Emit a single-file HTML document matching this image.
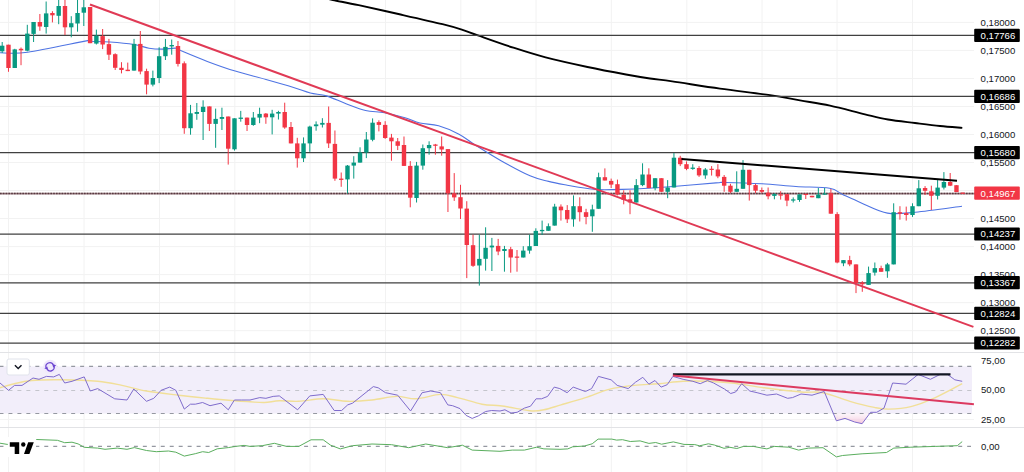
<!DOCTYPE html>
<html><head><meta charset="utf-8"><style>
html,body{margin:0;padding:0;background:#fff;width:1024px;height:472px;overflow:hidden}
svg{display:block}
</style></head><body>
<svg width="1024" height="472" viewBox="0 0 1024 472">
<rect width="1024" height="472" fill="#fff"/>
<line x1="8.5" y1="0" x2="8.5" y2="472" stroke="#f2f2f2" stroke-width="1"/>
<line x1="84" y1="0" x2="84" y2="472" stroke="#f2f2f2" stroke-width="1"/>
<line x1="159.5" y1="0" x2="159.5" y2="472" stroke="#f2f2f2" stroke-width="1"/>
<line x1="234.8" y1="0" x2="234.8" y2="472" stroke="#f2f2f2" stroke-width="1"/>
<line x1="310" y1="0" x2="310" y2="472" stroke="#f2f2f2" stroke-width="1"/>
<line x1="385.5" y1="0" x2="385.5" y2="472" stroke="#f2f2f2" stroke-width="1"/>
<line x1="460.8" y1="0" x2="460.8" y2="472" stroke="#f2f2f2" stroke-width="1"/>
<line x1="536" y1="0" x2="536" y2="472" stroke="#f2f2f2" stroke-width="1"/>
<line x1="611.3" y1="0" x2="611.3" y2="472" stroke="#f2f2f2" stroke-width="1"/>
<line x1="686.8" y1="0" x2="686.8" y2="472" stroke="#f2f2f2" stroke-width="1"/>
<line x1="762" y1="0" x2="762" y2="472" stroke="#f2f2f2" stroke-width="1"/>
<line x1="837" y1="0" x2="837" y2="472" stroke="#f2f2f2" stroke-width="1"/>
<line x1="912.5" y1="0" x2="912.5" y2="472" stroke="#f2f2f2" stroke-width="1"/>
<line x1="0" y1="22.4" x2="974" y2="22.4" stroke="#f2f2f2" stroke-width="1"/>
<line x1="0" y1="50.42" x2="974" y2="50.42" stroke="#f2f2f2" stroke-width="1"/>
<line x1="0" y1="78.45" x2="974" y2="78.45" stroke="#f2f2f2" stroke-width="1"/>
<line x1="0" y1="106.47" x2="974" y2="106.47" stroke="#f2f2f2" stroke-width="1"/>
<line x1="0" y1="134.5" x2="974" y2="134.5" stroke="#f2f2f2" stroke-width="1"/>
<line x1="0" y1="162.53" x2="974" y2="162.53" stroke="#f2f2f2" stroke-width="1"/>
<line x1="0" y1="190.55" x2="974" y2="190.55" stroke="#f2f2f2" stroke-width="1"/>
<line x1="0" y1="218.57" x2="974" y2="218.57" stroke="#f2f2f2" stroke-width="1"/>
<line x1="0" y1="246.6" x2="974" y2="246.6" stroke="#f2f2f2" stroke-width="1"/>
<line x1="0" y1="274.62" x2="974" y2="274.62" stroke="#f2f2f2" stroke-width="1"/>
<line x1="0" y1="302.65" x2="974" y2="302.65" stroke="#f2f2f2" stroke-width="1"/>
<line x1="0" y1="330.67" x2="974" y2="330.67" stroke="#f2f2f2" stroke-width="1"/>
<line x1="0" y1="419.5" x2="974" y2="419.5" stroke="#f4f4f4" stroke-width="1"/>
<line x1="0" y1="352.5" x2="1024" y2="352.5" stroke="#e2e3e6" stroke-width="1.2"/>
<line x1="0" y1="427.5" x2="1024" y2="427.5" stroke="#e2e3e6" stroke-width="1.2"/>
<path d="M322,-2.6 C323.82,-2.17 326.78,-1.3 332.9,0 C339.02,1.3 347.42,2.78 358.7,5.2 C369.98,7.62 386.63,11.33 400.6,14.5 C414.57,17.67 432.3,21.68 442.5,24.2 C452.7,26.72 455.9,27.73 461.8,29.6 C467.7,31.47 469.3,32.38 477.9,35.4 C486.5,38.42 502.12,44.03 513.4,47.7 C524.68,51.37 533.25,54.18 545.6,57.4 C557.95,60.62 574.1,64.15 587.5,67 C600.9,69.85 615.58,72.58 626,74.5 C636.42,76.42 642.3,77.35 650,78.5 C657.7,79.65 660.53,79.72 672.2,81.4 C683.87,83.08 703.7,86.3 720,88.6 C736.3,90.9 756.67,93.23 770,95.2 C783.33,97.17 790,98.67 800,100.4 C810,102.13 819.17,103.28 830,105.6 C840.83,107.92 855.33,111.98 865,114.3 C874.67,116.62 879.67,118.05 888,119.5 C896.33,120.95 906.33,121.92 915,123 C923.67,124.08 932.12,125.18 940,126 C947.88,126.82 958.58,127.58 962.3,127.9" fill="none" stroke="#000" stroke-width="1.85"/>
<line x1="0" y1="35.4" x2="975" y2="35.4" stroke="#404040" stroke-width="1.25"/>
<line x1="0" y1="96.4" x2="975" y2="96.4" stroke="#404040" stroke-width="1.25"/>
<line x1="0" y1="152.5" x2="975" y2="152.5" stroke="#404040" stroke-width="1.25"/>
<line x1="0" y1="234.2" x2="975" y2="234.2" stroke="#404040" stroke-width="1.25"/>
<line x1="0" y1="282.8" x2="975" y2="282.8" stroke="#404040" stroke-width="1.25"/>
<line x1="0" y1="313.3" x2="975" y2="313.3" stroke="#404040" stroke-width="1.25"/>
<line x1="0" y1="343.2" x2="975" y2="343.2" stroke="#404040" stroke-width="1.25"/>
<line x1="0" y1="193.6" x2="975" y2="193.6" stroke="#a08288" stroke-width="1.7"/>
<line x1="0" y1="193.6" x2="975" y2="193.6" stroke="#573a40" stroke-width="1.5" stroke-dasharray="1.6 1.2"/>
<path d="M0,52.8 C4.6,52.7 13,54.23 27.6,52.2 C42.2,50.17 77.32,42.42 87.6,40.6 C97.88,38.78 85.57,41.07 89.3,41.3 C93.03,41.53 102.55,41.47 110,42 C117.45,42.53 127.5,43.47 134,44.5 C140.5,45.53 144.33,47.43 149,48.2 C153.67,48.97 157.5,49.1 162,49.1 C166.5,49.1 172.8,47.92 176,48.2 C179.2,48.48 175.98,48.6 181.2,50.8 C186.42,53 198.45,58.07 207.3,61.4 C216.15,64.73 224.52,67.78 234.3,70.8 C244.08,73.82 256.12,76.72 266,79.5 C275.88,82.28 286.22,85.25 293.6,87.5 C300.98,89.75 304.82,91.6 310.3,93 C315.78,94.4 320.55,94.12 326.5,95.9 C332.45,97.68 339.5,101.27 346,103.7 C352.5,106.13 359.08,108.98 365.5,110.5 C371.92,112.02 377.92,111.58 384.5,112.8 C391.08,114.02 399.1,116.1 405,117.8 C410.9,119.5 414.3,121.67 419.9,123 C425.5,124.33 432.08,123.93 438.6,125.8 C445.12,127.67 452.8,130.93 459,134.2 C465.2,137.47 468.8,140.98 475.8,145.4 C482.8,149.82 491.97,155.63 501,160.7 C510.03,165.77 522.07,172.35 530,175.8 C537.93,179.25 542.38,179.83 548.6,181.4 C554.82,182.97 561.07,184.05 567.3,185.2 C573.53,186.35 580.88,187.57 586,188.3 C591.12,189.03 592,189.42 598,189.6 C604,189.78 613.67,189.62 622,189.4 C630.33,189.18 639,188.83 648,188.3 C657,187.77 664.67,187.1 676,186.2 C687.33,185.3 707.9,183.52 716,182.9 C724.1,182.28 716.93,182.35 724.6,182.5 C732.27,182.65 750.1,183.13 762,183.8 C773.9,184.47 784.73,185.75 796,186.5 C807.27,187.25 821.83,186.97 829.6,188.3 C837.37,189.63 837.32,192.07 842.6,194.5 C847.88,196.93 853.82,199.8 861.3,202.9 C868.78,206 878.48,211.55 887.5,213.1 C896.52,214.65 902.98,213.35 915.4,212.2 C927.82,211.05 954.23,207.2 962,206.2" fill="none" stroke="#4f74e3" stroke-width="1.1"/>
<line x1="2.2" y1="42" x2="2.2" y2="53" stroke="#089981" stroke-width="1"/>
<rect x="0" y="45.7" width="4.4" height="5.6" fill="#089981"/>
<line x1="8.48" y1="44.7" x2="8.48" y2="71.8" stroke="#F23645" stroke-width="1"/>
<rect x="6.28" y="44.7" width="4.4" height="23.3" fill="#F23645"/>
<line x1="14.76" y1="48.8" x2="14.76" y2="68" stroke="#089981" stroke-width="1"/>
<rect x="12.56" y="49.4" width="4.4" height="18.6" fill="#089981"/>
<line x1="21.03" y1="47.5" x2="21.03" y2="65.2" stroke="#F23645" stroke-width="1"/>
<rect x="18.83" y="48.8" width="4.4" height="1.5" fill="#F23645"/>
<line x1="27.31" y1="24.8" x2="27.31" y2="51.3" stroke="#089981" stroke-width="1"/>
<rect x="25.11" y="33.6" width="4.4" height="17.1" fill="#089981"/>
<line x1="33.59" y1="22" x2="33.59" y2="42" stroke="#089981" stroke-width="1"/>
<rect x="31.39" y="22" width="4.4" height="11.9" fill="#089981"/>
<line x1="39.87" y1="14" x2="39.87" y2="30.8" stroke="#F23645" stroke-width="1"/>
<rect x="37.67" y="22" width="4.4" height="4.5" fill="#F23645"/>
<line x1="46.15" y1="1.5" x2="46.15" y2="33.6" stroke="#089981" stroke-width="1"/>
<rect x="43.95" y="13.4" width="4.4" height="13.6" fill="#089981"/>
<line x1="52.42" y1="11.2" x2="52.42" y2="22.4" stroke="#F23645" stroke-width="1"/>
<rect x="50.22" y="13" width="4.4" height="2.3" fill="#F23645"/>
<line x1="58.7" y1="-5" x2="58.7" y2="24.2" stroke="#089981" stroke-width="1"/>
<rect x="56.5" y="6" width="4.4" height="9.8" fill="#089981"/>
<line x1="64.98" y1="-5" x2="64.98" y2="35" stroke="#F23645" stroke-width="1"/>
<rect x="62.78" y="6" width="4.4" height="21.3" fill="#F23645"/>
<line x1="71.26" y1="16.2" x2="71.26" y2="37.3" stroke="#089981" stroke-width="1"/>
<rect x="69.06" y="23.2" width="4.4" height="4.1" fill="#089981"/>
<line x1="77.54" y1="-5" x2="77.54" y2="31.7" stroke="#089981" stroke-width="1"/>
<rect x="75.34" y="13" width="4.4" height="10.5" fill="#089981"/>
<line x1="83.81" y1="-5" x2="83.81" y2="26" stroke="#089981" stroke-width="1"/>
<rect x="81.61" y="7.3" width="4.4" height="5.4" fill="#089981"/>
<line x1="90.09" y1="7" x2="90.09" y2="43.2" stroke="#F23645" stroke-width="1"/>
<rect x="87.89" y="7" width="4.4" height="36.2" fill="#F23645"/>
<line x1="96.37" y1="29.6" x2="96.37" y2="44.5" stroke="#089981" stroke-width="1"/>
<rect x="94.17" y="35.7" width="4.4" height="7.9" fill="#089981"/>
<line x1="102.65" y1="29" x2="102.65" y2="49.1" stroke="#F23645" stroke-width="1"/>
<rect x="100.45" y="36.1" width="4.4" height="8.4" fill="#F23645"/>
<line x1="108.93" y1="38.9" x2="108.93" y2="60" stroke="#F23645" stroke-width="1"/>
<rect x="106.73" y="44.1" width="4.4" height="10.6" fill="#F23645"/>
<line x1="115.2" y1="53.3" x2="115.2" y2="70" stroke="#F23645" stroke-width="1"/>
<rect x="113" y="54.2" width="4.4" height="13.6" fill="#F23645"/>
<line x1="121.48" y1="62.2" x2="121.48" y2="73.4" stroke="#F23645" stroke-width="1"/>
<rect x="119.28" y="67.8" width="4.4" height="2.2" fill="#F23645"/>
<line x1="127.76" y1="62.6" x2="127.76" y2="71.1" stroke="#F23645" stroke-width="1"/>
<rect x="125.56" y="69.7" width="4.4" height="1.4" fill="#F23645"/>
<line x1="134.04" y1="38.9" x2="134.04" y2="70.6" stroke="#089981" stroke-width="1"/>
<rect x="131.84" y="43.9" width="4.4" height="26.7" fill="#089981"/>
<line x1="140.32" y1="31" x2="140.32" y2="74.3" stroke="#F23645" stroke-width="1"/>
<rect x="138.12" y="43.9" width="4.4" height="27.6" fill="#F23645"/>
<line x1="146.59" y1="68.7" x2="146.59" y2="94.3" stroke="#F23645" stroke-width="1"/>
<rect x="144.39" y="71.1" width="4.4" height="13.5" fill="#F23645"/>
<line x1="152.87" y1="70.6" x2="152.87" y2="86.4" stroke="#089981" stroke-width="1"/>
<rect x="150.67" y="78" width="4.4" height="6.6" fill="#089981"/>
<line x1="159.15" y1="47.3" x2="159.15" y2="83.1" stroke="#089981" stroke-width="1"/>
<rect x="156.95" y="56.2" width="4.4" height="21.8" fill="#089981"/>
<line x1="165.43" y1="38.9" x2="165.43" y2="60" stroke="#089981" stroke-width="1"/>
<rect x="163.23" y="46.9" width="4.4" height="9.3" fill="#089981"/>
<line x1="171.71" y1="39.5" x2="171.71" y2="54.7" stroke="#089981" stroke-width="1"/>
<rect x="169.51" y="45" width="4.4" height="1.4" fill="#089981"/>
<line x1="177.98" y1="41" x2="177.98" y2="66.5" stroke="#F23645" stroke-width="1"/>
<rect x="175.78" y="46" width="4.4" height="17.9" fill="#F23645"/>
<line x1="184.26" y1="61.4" x2="184.26" y2="133.8" stroke="#F23645" stroke-width="1"/>
<rect x="182.06" y="63.3" width="4.4" height="64.9" fill="#F23645"/>
<line x1="190.54" y1="104.9" x2="190.54" y2="134.7" stroke="#089981" stroke-width="1"/>
<rect x="188.34" y="113.3" width="4.4" height="14.9" fill="#089981"/>
<line x1="196.82" y1="103" x2="196.82" y2="119.8" stroke="#089981" stroke-width="1"/>
<rect x="194.62" y="112" width="4.4" height="1.9" fill="#089981"/>
<line x1="203.1" y1="100.3" x2="203.1" y2="140" stroke="#089981" stroke-width="1"/>
<rect x="200.9" y="106.8" width="4.4" height="5.2" fill="#089981"/>
<line x1="209.37" y1="106.4" x2="209.37" y2="131" stroke="#F23645" stroke-width="1"/>
<rect x="207.17" y="106.4" width="4.4" height="17.5" fill="#F23645"/>
<line x1="215.65" y1="108.6" x2="215.65" y2="147.8" stroke="#089981" stroke-width="1"/>
<rect x="213.45" y="118.9" width="4.4" height="5" fill="#089981"/>
<line x1="221.93" y1="107.7" x2="221.93" y2="130" stroke="#089981" stroke-width="1"/>
<rect x="219.73" y="117" width="4.4" height="1.9" fill="#089981"/>
<line x1="228.21" y1="116.5" x2="228.21" y2="164.6" stroke="#F23645" stroke-width="1"/>
<rect x="226.01" y="116.5" width="4.4" height="32.2" fill="#F23645"/>
<line x1="234.49" y1="118.3" x2="234.49" y2="150.6" stroke="#089981" stroke-width="1"/>
<rect x="232.29" y="118.3" width="4.4" height="31" fill="#089981"/>
<line x1="240.76" y1="110.9" x2="240.76" y2="121.7" stroke="#089981" stroke-width="1"/>
<rect x="238.56" y="117.6" width="4.4" height="1.3" fill="#089981"/>
<line x1="247.04" y1="117.6" x2="247.04" y2="131" stroke="#F23645" stroke-width="1"/>
<rect x="244.84" y="117.6" width="4.4" height="7.4" fill="#F23645"/>
<line x1="253.32" y1="112" x2="253.32" y2="125.8" stroke="#089981" stroke-width="1"/>
<rect x="251.12" y="117.6" width="4.4" height="7.4" fill="#089981"/>
<line x1="259.6" y1="107.7" x2="259.6" y2="123.2" stroke="#089981" stroke-width="1"/>
<rect x="257.4" y="113.9" width="4.4" height="3.7" fill="#089981"/>
<line x1="265.88" y1="113" x2="265.88" y2="123.8" stroke="#F23645" stroke-width="1"/>
<rect x="263.68" y="113.6" width="4.4" height="3.7" fill="#F23645"/>
<line x1="272.15" y1="109.8" x2="272.15" y2="134.4" stroke="#089981" stroke-width="1"/>
<rect x="269.95" y="113.6" width="4.4" height="3.7" fill="#089981"/>
<line x1="278.43" y1="110.8" x2="278.43" y2="119.5" stroke="#089981" stroke-width="1"/>
<rect x="276.23" y="112" width="4.4" height="1.6" fill="#089981"/>
<line x1="284.71" y1="102.7" x2="284.71" y2="128.8" stroke="#F23645" stroke-width="1"/>
<rect x="282.51" y="112" width="4.4" height="15.5" fill="#F23645"/>
<line x1="290.99" y1="122" x2="290.99" y2="143.4" stroke="#F23645" stroke-width="1"/>
<rect x="288.79" y="127" width="4.4" height="16.4" fill="#F23645"/>
<line x1="297.27" y1="137.8" x2="297.27" y2="167.6" stroke="#F23645" stroke-width="1"/>
<rect x="295.07" y="143.4" width="4.4" height="14.9" fill="#F23645"/>
<line x1="303.54" y1="137.4" x2="303.54" y2="162" stroke="#089981" stroke-width="1"/>
<rect x="301.34" y="143.4" width="4.4" height="14.9" fill="#089981"/>
<line x1="309.82" y1="125.7" x2="309.82" y2="151.8" stroke="#089981" stroke-width="1"/>
<rect x="307.62" y="126.6" width="4.4" height="16.8" fill="#089981"/>
<line x1="316.1" y1="121.4" x2="316.1" y2="130.7" stroke="#089981" stroke-width="1"/>
<rect x="313.9" y="124.4" width="4.4" height="1.8" fill="#089981"/>
<line x1="322.38" y1="118.2" x2="322.38" y2="127.5" stroke="#089981" stroke-width="1"/>
<rect x="320.18" y="122.9" width="4.4" height="1.8" fill="#089981"/>
<line x1="328.66" y1="106.5" x2="328.66" y2="148" stroke="#F23645" stroke-width="1"/>
<rect x="326.46" y="122.9" width="4.4" height="20.5" fill="#F23645"/>
<line x1="334.93" y1="130.5" x2="334.93" y2="180.8" stroke="#F23645" stroke-width="1"/>
<rect x="332.73" y="143.9" width="4.4" height="34.7" fill="#F23645"/>
<line x1="341.21" y1="172.5" x2="341.21" y2="186.8" stroke="#F23645" stroke-width="1"/>
<rect x="339.01" y="178.6" width="4.4" height="1.3" fill="#F23645"/>
<line x1="347.49" y1="165" x2="347.49" y2="193.5" stroke="#089981" stroke-width="1"/>
<rect x="345.29" y="165.6" width="4.4" height="13.8" fill="#089981"/>
<line x1="353.77" y1="156.2" x2="353.77" y2="178.6" stroke="#089981" stroke-width="1"/>
<rect x="351.57" y="162.6" width="4.4" height="3" fill="#089981"/>
<line x1="360.05" y1="147.3" x2="360.05" y2="162.6" stroke="#089981" stroke-width="1"/>
<rect x="357.85" y="152.5" width="4.4" height="10.1" fill="#089981"/>
<line x1="366.32" y1="132" x2="366.32" y2="158.1" stroke="#089981" stroke-width="1"/>
<rect x="364.12" y="139.5" width="4.4" height="13" fill="#089981"/>
<line x1="372.6" y1="118.4" x2="372.6" y2="141.3" stroke="#089981" stroke-width="1"/>
<rect x="370.4" y="122.7" width="4.4" height="17.1" fill="#089981"/>
<line x1="378.88" y1="120.3" x2="378.88" y2="131.4" stroke="#F23645" stroke-width="1"/>
<rect x="376.68" y="122.1" width="4.4" height="2.8" fill="#F23645"/>
<line x1="385.16" y1="121.2" x2="385.16" y2="138.9" stroke="#F23645" stroke-width="1"/>
<rect x="382.96" y="124.9" width="4.4" height="13.1" fill="#F23645"/>
<line x1="391.44" y1="133.9" x2="391.44" y2="160.7" stroke="#F23645" stroke-width="1"/>
<rect x="389.24" y="137.6" width="4.4" height="3.7" fill="#F23645"/>
<line x1="397.71" y1="138" x2="397.71" y2="150.1" stroke="#F23645" stroke-width="1"/>
<rect x="395.51" y="141.3" width="4.4" height="4.5" fill="#F23645"/>
<line x1="403.99" y1="136.5" x2="403.99" y2="166" stroke="#F23645" stroke-width="1"/>
<rect x="401.79" y="145" width="4.4" height="20.9" fill="#F23645"/>
<line x1="410.27" y1="161.1" x2="410.27" y2="207.3" stroke="#F23645" stroke-width="1"/>
<rect x="408.07" y="165.9" width="4.4" height="31.8" fill="#F23645"/>
<line x1="416.55" y1="161.9" x2="416.55" y2="202.5" stroke="#089981" stroke-width="1"/>
<rect x="414.35" y="165.6" width="4.4" height="32.4" fill="#089981"/>
<line x1="422.83" y1="144.5" x2="422.83" y2="169.7" stroke="#089981" stroke-width="1"/>
<rect x="420.63" y="148.2" width="4.4" height="17.4" fill="#089981"/>
<line x1="429.1" y1="141.3" x2="429.1" y2="154.7" stroke="#089981" stroke-width="1"/>
<rect x="426.9" y="145" width="4.4" height="3.2" fill="#089981"/>
<line x1="435.38" y1="143.9" x2="435.38" y2="154.7" stroke="#F23645" stroke-width="1"/>
<rect x="433.18" y="144.5" width="4.4" height="1.3" fill="#F23645"/>
<line x1="441.66" y1="136.5" x2="441.66" y2="155.7" stroke="#F23645" stroke-width="1"/>
<rect x="439.46" y="146.4" width="4.4" height="3.1" fill="#F23645"/>
<line x1="447.94" y1="149.1" x2="447.94" y2="212" stroke="#F23645" stroke-width="1"/>
<rect x="445.74" y="149.1" width="4.4" height="44.2" fill="#F23645"/>
<line x1="454.22" y1="173.1" x2="454.22" y2="200.9" stroke="#F23645" stroke-width="1"/>
<rect x="452.02" y="193.3" width="4.4" height="4.1" fill="#F23645"/>
<line x1="460.49" y1="184.8" x2="460.49" y2="219" stroke="#F23645" stroke-width="1"/>
<rect x="458.29" y="197.2" width="4.4" height="11.3" fill="#F23645"/>
<line x1="466.77" y1="201.2" x2="466.77" y2="278.1" stroke="#F23645" stroke-width="1"/>
<rect x="464.57" y="208.6" width="4.4" height="36.4" fill="#F23645"/>
<line x1="473.05" y1="234.7" x2="473.05" y2="266.9" stroke="#F23645" stroke-width="1"/>
<rect x="470.85" y="245.2" width="4.4" height="20.6" fill="#F23645"/>
<line x1="479.33" y1="234.7" x2="479.33" y2="285.6" stroke="#089981" stroke-width="1"/>
<rect x="477.13" y="258.9" width="4.4" height="6.6" fill="#089981"/>
<line x1="485.61" y1="227.3" x2="485.61" y2="270.6" stroke="#089981" stroke-width="1"/>
<rect x="483.41" y="247.8" width="4.4" height="11" fill="#089981"/>
<line x1="491.88" y1="237.9" x2="491.88" y2="271" stroke="#089981" stroke-width="1"/>
<rect x="489.68" y="245.6" width="4.4" height="1.8" fill="#089981"/>
<line x1="498.16" y1="238.9" x2="498.16" y2="255.2" stroke="#F23645" stroke-width="1"/>
<rect x="495.96" y="245.9" width="4.4" height="5.6" fill="#F23645"/>
<line x1="504.44" y1="245.9" x2="504.44" y2="271.7" stroke="#089981" stroke-width="1"/>
<rect x="502.24" y="249" width="4.4" height="2" fill="#089981"/>
<line x1="510.72" y1="246.9" x2="510.72" y2="272.7" stroke="#F23645" stroke-width="1"/>
<rect x="508.52" y="249.2" width="4.4" height="8.3" fill="#F23645"/>
<line x1="517" y1="250" x2="517" y2="271.7" stroke="#F23645" stroke-width="1"/>
<rect x="514.8" y="256.55" width="4.4" height="1.2" fill="#F23645"/>
<line x1="523.27" y1="246.2" x2="523.27" y2="257.5" stroke="#089981" stroke-width="1"/>
<rect x="521.07" y="250.6" width="4.4" height="6.9" fill="#089981"/>
<line x1="529.55" y1="234.7" x2="529.55" y2="253.7" stroke="#089981" stroke-width="1"/>
<rect x="527.35" y="246.2" width="4.4" height="4.4" fill="#089981"/>
<line x1="535.83" y1="228.3" x2="535.83" y2="246" stroke="#089981" stroke-width="1"/>
<rect x="533.63" y="230.9" width="4.4" height="15.1" fill="#089981"/>
<line x1="542.11" y1="220.6" x2="542.11" y2="235" stroke="#089981" stroke-width="1"/>
<rect x="539.91" y="229.9" width="4.4" height="1.3" fill="#089981"/>
<line x1="548.39" y1="223.4" x2="548.39" y2="230.8" stroke="#089981" stroke-width="1"/>
<rect x="546.19" y="226.2" width="4.4" height="4.6" fill="#089981"/>
<line x1="554.66" y1="203.8" x2="554.66" y2="225.6" stroke="#089981" stroke-width="1"/>
<rect x="552.46" y="206.6" width="4.4" height="19" fill="#089981"/>
<line x1="560.94" y1="204.4" x2="560.94" y2="220.6" stroke="#F23645" stroke-width="1"/>
<rect x="558.74" y="206.6" width="4.4" height="3.7" fill="#F23645"/>
<line x1="567.22" y1="205.1" x2="567.22" y2="223" stroke="#F23645" stroke-width="1"/>
<rect x="565.02" y="210" width="4.4" height="9.3" fill="#F23645"/>
<line x1="573.5" y1="195.4" x2="573.5" y2="226.7" stroke="#089981" stroke-width="1"/>
<rect x="571.3" y="206.2" width="4.4" height="13.1" fill="#089981"/>
<line x1="579.78" y1="197.3" x2="579.78" y2="221.5" stroke="#F23645" stroke-width="1"/>
<rect x="577.58" y="206.2" width="4.4" height="6" fill="#F23645"/>
<line x1="586.05" y1="208.8" x2="586.05" y2="224.3" stroke="#F23645" stroke-width="1"/>
<rect x="583.85" y="212.2" width="4.4" height="4.7" fill="#F23645"/>
<line x1="592.33" y1="204.7" x2="592.33" y2="231.8" stroke="#089981" stroke-width="1"/>
<rect x="590.13" y="209.4" width="4.4" height="6.9" fill="#089981"/>
<line x1="598.61" y1="172.7" x2="598.61" y2="208.8" stroke="#089981" stroke-width="1"/>
<rect x="596.41" y="177.2" width="4.4" height="31.6" fill="#089981"/>
<line x1="604.89" y1="168.4" x2="604.89" y2="180.5" stroke="#F23645" stroke-width="1"/>
<rect x="602.69" y="177.2" width="4.4" height="3.3" fill="#F23645"/>
<line x1="611.17" y1="178.6" x2="611.17" y2="188" stroke="#F23645" stroke-width="1"/>
<rect x="608.97" y="180.9" width="4.4" height="3.7" fill="#F23645"/>
<line x1="617.44" y1="179.6" x2="617.44" y2="195.4" stroke="#F23645" stroke-width="1"/>
<rect x="615.24" y="184.2" width="4.4" height="10.3" fill="#F23645"/>
<line x1="623.72" y1="190.3" x2="623.72" y2="204.3" stroke="#F23645" stroke-width="1"/>
<rect x="621.52" y="194.8" width="4.4" height="5.1" fill="#F23645"/>
<line x1="630" y1="190.3" x2="630" y2="214.2" stroke="#F23645" stroke-width="1"/>
<rect x="627.8" y="199.3" width="4.4" height="3.2" fill="#F23645"/>
<line x1="636.28" y1="179.1" x2="636.28" y2="202.5" stroke="#089981" stroke-width="1"/>
<rect x="634.08" y="185.1" width="4.4" height="17.4" fill="#089981"/>
<line x1="642.56" y1="163.3" x2="642.56" y2="186.2" stroke="#089981" stroke-width="1"/>
<rect x="640.36" y="174.5" width="4.4" height="10.6" fill="#089981"/>
<line x1="648.83" y1="168.3" x2="648.83" y2="188.1" stroke="#F23645" stroke-width="1"/>
<rect x="646.63" y="174.5" width="4.4" height="13.6" fill="#F23645"/>
<line x1="655.11" y1="178.2" x2="655.11" y2="190.3" stroke="#089981" stroke-width="1"/>
<rect x="652.91" y="178.2" width="4.4" height="9.9" fill="#089981"/>
<line x1="661.39" y1="178.2" x2="661.39" y2="191.8" stroke="#F23645" stroke-width="1"/>
<rect x="659.19" y="178.2" width="4.4" height="13.6" fill="#F23645"/>
<line x1="667.67" y1="180.1" x2="667.67" y2="198.2" stroke="#089981" stroke-width="1"/>
<rect x="665.47" y="187.5" width="4.4" height="4.3" fill="#089981"/>
<line x1="673.95" y1="153" x2="673.95" y2="187.5" stroke="#089981" stroke-width="1"/>
<rect x="671.75" y="157.7" width="4.4" height="29.8" fill="#089981"/>
<line x1="680.22" y1="155.8" x2="680.22" y2="166.1" stroke="#F23645" stroke-width="1"/>
<rect x="678.02" y="157.7" width="4.4" height="6.5" fill="#F23645"/>
<line x1="686.5" y1="161.4" x2="686.5" y2="170.2" stroke="#F23645" stroke-width="1"/>
<rect x="684.3" y="164.2" width="4.4" height="4.7" fill="#F23645"/>
<line x1="692.78" y1="164.2" x2="692.78" y2="169.8" stroke="#089981" stroke-width="1"/>
<rect x="690.58" y="167.6" width="4.4" height="1.3" fill="#089981"/>
<line x1="699.06" y1="166.1" x2="699.06" y2="176.9" stroke="#F23645" stroke-width="1"/>
<rect x="696.86" y="168" width="4.4" height="7.4" fill="#F23645"/>
<line x1="705.34" y1="168" x2="705.34" y2="178.8" stroke="#089981" stroke-width="1"/>
<rect x="703.14" y="169.5" width="4.4" height="5.9" fill="#089981"/>
<line x1="711.61" y1="166.1" x2="711.61" y2="175.6" stroke="#F23645" stroke-width="1"/>
<rect x="709.41" y="168.75" width="4.4" height="1.2" fill="#F23645"/>
<line x1="717.89" y1="164.2" x2="717.89" y2="178.2" stroke="#F23645" stroke-width="1"/>
<rect x="715.69" y="169.5" width="4.4" height="6.9" fill="#F23645"/>
<line x1="724.17" y1="175" x2="724.17" y2="191.8" stroke="#F23645" stroke-width="1"/>
<rect x="721.97" y="176.9" width="4.4" height="8.8" fill="#F23645"/>
<line x1="730.45" y1="183.8" x2="730.45" y2="193.1" stroke="#F23645" stroke-width="1"/>
<rect x="728.25" y="185.7" width="4.4" height="6.1" fill="#F23645"/>
<line x1="736.73" y1="171.3" x2="736.73" y2="191.8" stroke="#089981" stroke-width="1"/>
<rect x="734.53" y="188.8" width="4.4" height="3" fill="#089981"/>
<line x1="743" y1="160.1" x2="743" y2="188.8" stroke="#089981" stroke-width="1"/>
<rect x="740.8" y="169.8" width="4.4" height="19" fill="#089981"/>
<line x1="749.28" y1="169.8" x2="749.28" y2="200.6" stroke="#F23645" stroke-width="1"/>
<rect x="747.08" y="169.8" width="4.4" height="15.3" fill="#F23645"/>
<line x1="755.56" y1="183.8" x2="755.56" y2="193.1" stroke="#F23645" stroke-width="1"/>
<rect x="753.36" y="185.1" width="4.4" height="5.6" fill="#F23645"/>
<line x1="761.84" y1="187.5" x2="761.84" y2="193.1" stroke="#F23645" stroke-width="1"/>
<rect x="759.64" y="190" width="4.4" height="1.8" fill="#F23645"/>
<line x1="768.12" y1="187.5" x2="768.12" y2="199.3" stroke="#F23645" stroke-width="1"/>
<rect x="765.92" y="192.6" width="4.4" height="3.7" fill="#F23645"/>
<line x1="774.39" y1="193.1" x2="774.39" y2="199.3" stroke="#089981" stroke-width="1"/>
<rect x="772.19" y="194.1" width="4.4" height="1.8" fill="#089981"/>
<line x1="780.67" y1="191.2" x2="780.67" y2="199.6" stroke="#F23645" stroke-width="1"/>
<rect x="778.47" y="194.4" width="4.4" height="1.2" fill="#F23645"/>
<line x1="786.95" y1="194.1" x2="786.95" y2="206.2" stroke="#F23645" stroke-width="1"/>
<rect x="784.75" y="194.1" width="4.4" height="6.5" fill="#F23645"/>
<line x1="793.23" y1="197.4" x2="793.23" y2="202.5" stroke="#089981" stroke-width="1"/>
<rect x="791.03" y="199.4" width="4.4" height="1.2" fill="#089981"/>
<line x1="799.51" y1="194.4" x2="799.51" y2="201.8" stroke="#089981" stroke-width="1"/>
<rect x="797.31" y="194.4" width="4.4" height="5.6" fill="#089981"/>
<line x1="805.78" y1="194" x2="805.78" y2="199" stroke="#F23645" stroke-width="1"/>
<rect x="803.58" y="193.8" width="4.4" height="1.2" fill="#F23645"/>
<line x1="812.06" y1="195.8" x2="812.06" y2="197.3" stroke="#F23645" stroke-width="1"/>
<rect x="809.86" y="195.8" width="4.4" height="1.5" fill="#F23645"/>
<line x1="818.34" y1="188" x2="818.34" y2="198.2" stroke="#089981" stroke-width="1"/>
<rect x="816.14" y="194.5" width="4.4" height="3.7" fill="#089981"/>
<line x1="824.62" y1="188" x2="824.62" y2="194.6" stroke="#089981" stroke-width="1"/>
<rect x="822.42" y="193.5" width="4.4" height="1.2" fill="#089981"/>
<line x1="830.9" y1="188.9" x2="830.9" y2="213.7" stroke="#F23645" stroke-width="1"/>
<rect x="828.7" y="193.2" width="4.4" height="20.5" fill="#F23645"/>
<line x1="837.17" y1="212.2" x2="837.17" y2="263.3" stroke="#F23645" stroke-width="1"/>
<rect x="834.97" y="214.1" width="4.4" height="48.4" fill="#F23645"/>
<line x1="843.45" y1="260.1" x2="843.45" y2="266.2" stroke="#089981" stroke-width="1"/>
<rect x="841.25" y="260.1" width="4.4" height="3.2" fill="#089981"/>
<line x1="849.73" y1="255.8" x2="849.73" y2="266.2" stroke="#F23645" stroke-width="1"/>
<rect x="847.53" y="260.1" width="4.4" height="4.3" fill="#F23645"/>
<line x1="856.01" y1="264.4" x2="856.01" y2="293.1" stroke="#F23645" stroke-width="1"/>
<rect x="853.81" y="264.4" width="4.4" height="18.6" fill="#F23645"/>
<line x1="862.29" y1="281.1" x2="862.29" y2="291.8" stroke="#F23645" stroke-width="1"/>
<rect x="860.09" y="282.5" width="4.4" height="1.8" fill="#F23645"/>
<line x1="868.56" y1="266.6" x2="868.56" y2="284.9" stroke="#089981" stroke-width="1"/>
<rect x="866.36" y="273.1" width="4.4" height="11.8" fill="#089981"/>
<line x1="874.84" y1="262.5" x2="874.84" y2="275.6" stroke="#089981" stroke-width="1"/>
<rect x="872.64" y="268.1" width="4.4" height="4.5" fill="#089981"/>
<line x1="881.12" y1="265.7" x2="881.12" y2="271.8" stroke="#F23645" stroke-width="1"/>
<rect x="878.92" y="268.1" width="4.4" height="3.7" fill="#F23645"/>
<line x1="887.4" y1="262.9" x2="887.4" y2="277.8" stroke="#089981" stroke-width="1"/>
<rect x="885.2" y="264.4" width="4.4" height="6.9" fill="#089981"/>
<line x1="893.68" y1="203.3" x2="893.68" y2="264.4" stroke="#089981" stroke-width="1"/>
<rect x="891.48" y="212.2" width="4.4" height="52.2" fill="#089981"/>
<line x1="899.95" y1="206.2" x2="899.95" y2="219.7" stroke="#F23645" stroke-width="1"/>
<rect x="897.75" y="212.2" width="4.4" height="1.5" fill="#F23645"/>
<line x1="906.23" y1="206.6" x2="906.23" y2="220.6" stroke="#F23645" stroke-width="1"/>
<rect x="904.03" y="213.1" width="4.4" height="1.9" fill="#F23645"/>
<line x1="912.51" y1="203.3" x2="912.51" y2="216.9" stroke="#089981" stroke-width="1"/>
<rect x="910.31" y="206.2" width="4.4" height="8.8" fill="#089981"/>
<line x1="918.79" y1="180.1" x2="918.79" y2="206.2" stroke="#089981" stroke-width="1"/>
<rect x="916.59" y="188.3" width="4.4" height="17.9" fill="#089981"/>
<line x1="925.07" y1="186.1" x2="925.07" y2="195" stroke="#F23645" stroke-width="1"/>
<rect x="922.87" y="188" width="4.4" height="2.8" fill="#F23645"/>
<line x1="931.34" y1="185.7" x2="931.34" y2="210" stroke="#F23645" stroke-width="1"/>
<rect x="929.14" y="191.3" width="4.4" height="4.5" fill="#F23645"/>
<line x1="937.62" y1="180.1" x2="937.62" y2="199.5" stroke="#089981" stroke-width="1"/>
<rect x="935.42" y="187.6" width="4.4" height="8.2" fill="#089981"/>
<line x1="943.9" y1="172.1" x2="943.9" y2="189.5" stroke="#089981" stroke-width="1"/>
<rect x="941.7" y="182" width="4.4" height="5.6" fill="#089981"/>
<line x1="950.18" y1="173" x2="950.18" y2="186.1" stroke="#F23645" stroke-width="1"/>
<rect x="947.98" y="182" width="4.4" height="3.7" fill="#F23645"/>
<line x1="956.46" y1="185.2" x2="956.46" y2="192.1" stroke="#F23645" stroke-width="1"/>
<rect x="954.26" y="185.2" width="4.4" height="6.9" fill="#F23645"/>
<line x1="962.73" y1="192.6" x2="962.73" y2="193.8" stroke="#F23645" stroke-width="1"/>
<rect x="960.53" y="192.6" width="4.4" height="1.2" fill="#F23645"/>
<line x1="90" y1="4.5" x2="973.4" y2="326.9" stroke="#e03a55" stroke-width="2"/>
<line x1="681.5" y1="159" x2="957" y2="180.8" stroke="#000" stroke-width="2"/>
<text x="980.6" y="25.8" font-family="Liberation Sans, sans-serif" font-size="9.6" fill="#131722">0,18000</text>
<text x="980.6" y="53.8" font-family="Liberation Sans, sans-serif" font-size="9.6" fill="#131722">0,17500</text>
<text x="980.6" y="81.9" font-family="Liberation Sans, sans-serif" font-size="9.6" fill="#131722">0,17000</text>
<text x="980.6" y="109.9" font-family="Liberation Sans, sans-serif" font-size="9.6" fill="#131722">0,16500</text>
<text x="980.6" y="137.9" font-family="Liberation Sans, sans-serif" font-size="9.6" fill="#131722">0,16000</text>
<text x="980.6" y="165.9" font-family="Liberation Sans, sans-serif" font-size="9.6" fill="#131722">0,15500</text>
<text x="980.6" y="222" font-family="Liberation Sans, sans-serif" font-size="9.6" fill="#131722">0,14500</text>
<text x="980.6" y="250" font-family="Liberation Sans, sans-serif" font-size="9.6" fill="#131722">0,14000</text>
<text x="980.6" y="278.1" font-family="Liberation Sans, sans-serif" font-size="9.6" fill="#131722">0,13500</text>
<text x="980.6" y="306.1" font-family="Liberation Sans, sans-serif" font-size="9.6" fill="#131722">0,13000</text>
<text x="980.6" y="334.1" font-family="Liberation Sans, sans-serif" font-size="9.6" fill="#131722">0,12500</text>
<rect x="974.2" y="28.8" width="45.6" height="13.2" rx="1" fill="#000"/>
<text x="980.6" y="38.8" font-family="Liberation Sans, sans-serif" font-size="9.6" fill="#fff">0,17766</text>
<rect x="974.2" y="89.8" width="45.6" height="13.2" rx="1" fill="#000"/>
<text x="980.6" y="99.8" font-family="Liberation Sans, sans-serif" font-size="9.6" fill="#fff">0,16686</text>
<rect x="974.2" y="146.1" width="45.6" height="13.2" rx="1" fill="#000"/>
<text x="980.6" y="156.1" font-family="Liberation Sans, sans-serif" font-size="9.6" fill="#fff">0,15680</text>
<rect x="974.2" y="186.6" width="45.6" height="13.2" rx="1" fill="#F23645"/>
<text x="980.6" y="196.6" font-family="Liberation Sans, sans-serif" font-size="9.6" fill="#fff">0,14967</text>
<rect x="974.2" y="227.4" width="45.6" height="13.2" rx="1" fill="#000"/>
<text x="980.6" y="237.4" font-family="Liberation Sans, sans-serif" font-size="9.6" fill="#fff">0,14237</text>
<rect x="974.2" y="276" width="45.6" height="13.2" rx="1" fill="#000"/>
<text x="980.6" y="286" font-family="Liberation Sans, sans-serif" font-size="9.6" fill="#fff">0,13367</text>
<rect x="974.2" y="306.7" width="45.6" height="13.2" rx="1" fill="#000"/>
<text x="980.6" y="316.7" font-family="Liberation Sans, sans-serif" font-size="9.6" fill="#fff">0,12824</text>
<rect x="974.2" y="336.4" width="45.6" height="13.2" rx="1" fill="#000"/>
<text x="980.6" y="346.4" font-family="Liberation Sans, sans-serif" font-size="9.6" fill="#fff">0,12282</text>
<rect x="0" y="366.4" width="972" height="47.1" fill="#f2eefa"/>
<defs><linearGradient id="pk" x1="0" y1="0" x2="0" y2="1"><stop offset="0" stop-color="#f6e0ee" stop-opacity="0.2"/><stop offset="1" stop-color="#f5c6dc"/></linearGradient></defs>
<polygon points="836.4,420.8 845,418.4 854.7,422 862.1,423.7 870.6,412.3 833.8,412.3" fill="url(#pk)"/>
<line x1="0" y1="366.4" x2="972" y2="366.4" stroke="#9598a1" stroke-width="1.1" stroke-dasharray="3.96 5" stroke-dashoffset="0.5"/>
<line x1="0" y1="390.5" x2="972" y2="390.5" stroke="#c4c5cc" stroke-width="1.1" stroke-dasharray="3.96 5" stroke-dashoffset="0.5"/>
<line x1="0" y1="413.5" x2="972" y2="413.5" stroke="#9598a1" stroke-width="1.1" stroke-dasharray="3.96 5" stroke-dashoffset="0.5"/>
<path d="M0,387.8 C2.03,387.2 6.92,385.42 12.2,384.2 C17.48,382.98 23.57,381.23 31.7,380.5 C39.83,379.77 50,379.67 61,379.8 C72,379.93 87.53,380.37 97.7,381.3 C107.87,382.23 113.87,383.78 122,385.4 C130.13,387.02 137.13,389.37 146.5,391 C155.87,392.63 168.03,393.98 178.2,395.2 C188.37,396.42 198.13,397.37 207.5,398.3 C216.87,399.23 227.32,400.22 234.4,400.8 C241.48,401.38 244.97,401.52 250,401.8 C255.03,402.08 259.72,402.67 264.6,402.5 C269.48,402.33 273.6,401 279.3,400.8 C285,400.6 291.48,401.63 298.8,401.3 C306.12,400.97 315.05,398.8 323.2,398.8 C331.35,398.8 339.57,401.1 347.7,401.3 C355.83,401.5 363.87,400.82 372,400 C380.13,399.18 389.17,396.6 396.5,396.4 C403.83,396.2 408.68,399.13 416,398.8 C423.32,398.47 433.48,394.6 440.4,394.4 C447.32,394.2 450.57,395.97 457.5,397.6 C464.43,399.23 474.92,402.85 482,404.2 C489.08,405.55 494.57,405.05 500,405.7 C505.43,406.35 509.32,407.22 514.6,408.1 C519.88,408.98 526.82,410.72 531.7,411 C536.58,411.28 539.02,410.82 543.9,409.8 C548.78,408.78 554.08,406.93 561,404.9 C567.92,402.87 577.25,400.23 585.4,397.6 C593.55,394.97 601.75,391.13 609.9,389.1 C618.05,387.07 626.17,386.3 634.3,385.4 C642.43,384.5 650.57,384.38 658.7,383.7 C666.83,383.02 674.97,381.7 683.1,381.3 C691.23,380.9 699.37,381.02 707.5,381.3 C715.63,381.58 722.42,381.92 731.9,383 C741.38,384.08 752.88,386.3 764.4,387.8 C775.92,389.3 791.23,391.18 801,392 C810.77,392.82 814.85,391.15 823,392.7 C831.15,394.25 841.35,398.85 849.9,401.3 C858.45,403.75 867.8,406.1 874.3,407.4 C880.8,408.7 882.8,409.23 888.9,409.1 C895,408.97 903.17,408.52 910.9,406.6 C918.63,404.68 926.75,401.42 935.3,397.6 C943.85,393.78 957.72,386.02 962.2,383.7" fill="none" stroke="#f1df98" stroke-width="1.4"/>
<polyline points="0,383 8.5,390.3 14.6,385.4 22,385.4 33,378 39,379.3 46.4,376.4 53.7,376.9 59.3,374.4 64.7,383 72,381.3 84.2,376.9 90.3,391 97.7,388.6 114.7,398.8 127,400 133.8,389 146.5,401.3 153.8,398.3 161.1,390.3 169.7,387.1 175.8,390.3 184.3,409.1 190.4,404.2 195.3,404.2 202.6,402.5 210,405.7 221,403.2 228.3,409.8 234.4,400 241.7,400 250,400 259.8,397.6 265.9,398.3 273.2,396.4 279.3,395.9 297.6,409.8 309.8,395.9 323.2,394.4 334.2,410.5 341.6,410.5 347.7,404.9 352.5,403.2 373.3,386.6 378.2,387.8 385.5,392.7 397.7,395.2 410.6,411 422.1,392.7 430.7,391 440.4,392.7 447.8,404.9 452.6,405.7 460,408.6 466.1,415.4 472.2,418.4 478.3,415.9 485.6,411.5 491.7,410.5 500,411 504.9,409.8 511,413 517.1,412.3 524.4,408.1 530.5,406.2 536.1,398.8 541.5,398.8 547.6,396.4 554.2,387.1 559.8,388.6 567.1,392.7 573.2,387.1 585.4,391.5 591.6,388.6 598.4,376.4 611.1,379.8 617.2,385.4 628.2,388.6 635.5,382.2 642.8,377.3 648.9,384.2 655,380.5 661.1,387.1 667.2,384.7 672.9,376.4 683.1,379.3 692.9,381.3 700.2,383.7 707.5,380.5 713.6,383 724.6,389.1 730.7,393.5 735.6,392 741.7,383.7 749.8,391 757.1,392.7 766.9,395.2 776.6,394 787.6,398.3 792.5,397.6 801,394 812,395.2 824.2,391.5 836.4,420.8 845,418.4 854.7,422 862.1,423.7 870.6,412.3 876.7,412.3 884,408.1 892.6,383 906,384.2 918.2,374.4 930.4,379.3 940.2,374.4 947.5,374.4 954.8,379.8 962.2,381.3" fill="none" stroke="#7f6ccc" stroke-width="1" stroke-linejoin="round"/>
<line x1="672.9" y1="374.4" x2="950.5" y2="374.4" stroke="#131722" stroke-width="2.1"/>
<line x1="672.9" y1="375.6" x2="973.9" y2="404.2" stroke="#dc3a60" stroke-width="2"/>
<line x1="0" y1="446.4" x2="971" y2="446.4" stroke="#9598a1" stroke-width="1.1" stroke-dasharray="3.96 5" stroke-dashoffset="0.5"/>
<polyline points="0,443.2 7.3,444.4 36.6,439.5 57.4,440.3 64.7,442.7 72,442.2 78.1,443.9 84.2,447.3 97.7,448.1 105,449.3 117.2,448.1 127,449.3 134.3,447.6 146.5,450.5 156.3,451.7 168.5,451 175.8,452.2 184.3,456.1 195.3,453.7 202.6,451.7 208.7,452.5 217.3,448.8 228.3,447.6 235.6,446.4 244.1,445.4 250,446.4 262.2,445.7 274.4,443.3 286.6,446.4 298.8,446.4 311,439.8 323.2,439.8 330.6,445.2 340.3,448.9 352.5,445.7 372,444 391.6,444.7 408.7,447.7 425.8,444 447.8,447.7 462.4,445.2 472.2,450.1 500,451.3 512.2,450.1 524.4,450.1 536.6,447.2 543.9,448.9 560,449.3 567.8,448.9 572.7,446.8 584.4,446 592.2,443.8 598.1,439.1 611.8,439.1 616.6,440.1 622.5,439.7 630.3,441.5 640.1,440.9 648.9,443.4 655.7,442.5 661.6,444.2 673.3,441.9 684,444.4 694.8,444.6 699.6,445.8 708.4,443.8 714.3,445 724,448.3 729.9,447.3 736.8,448.5 743.6,446.4 753.4,446.4 760,447.7 766.9,448.9 774.2,446.4 788.8,447.2 798.6,450.1 808.4,448.1 823,447.7 836.4,456.9 842.5,455.5 862.1,453.8 886.5,452.5 893.8,448.1 910.9,447.2 935.3,446.4 957.3,445.7 962.2,441.6" fill="none" stroke="#5aae5e" stroke-width="1" stroke-linejoin="round"/>
<text x="981" y="363.7" font-family="Liberation Sans, sans-serif" font-size="9.6" fill="#131722">75,00</text>
<text x="981" y="393.4" font-family="Liberation Sans, sans-serif" font-size="9.6" fill="#131722">50,00</text>
<text x="981" y="423.1" font-family="Liberation Sans, sans-serif" font-size="9.6" fill="#131722">25,00</text>
<text x="981" y="449.8" font-family="Liberation Sans, sans-serif" font-size="9.6" fill="#131722">0,00</text>
<rect x="7" y="359" width="22.3" height="16" rx="2" fill="#fff" stroke="#e0e3eb" stroke-width="1"/>
<polyline points="14.9,365.3 18.2,368.5 21.5,365.3" fill="none" stroke="#131722" stroke-width="1.45"/>
<circle cx="50.2" cy="366.8" r="7" fill="#efe8fc"/>
<path d="M46,367.6 A4,4 0 0 1 53.2,364.4" fill="none" stroke="#6b45d0" stroke-width="1.2"/>
<path d="M54.2,366.2 A4,4 0 0 1 47.1,369.4" fill="none" stroke="#6b45d0" stroke-width="1.2"/>
<polygon points="52,363.6 56.2,365.6 53.2,367.4" fill="#6b45d0"/>
<polygon points="48.4,370.2 44.4,368.2 47.2,366.4" fill="#6b45d0"/>
<rect x="8" y="437" width="28" height="20" fill="#fff"/>
<g fill="#000"><path d="M9.8,442.3 H19.2 V454.1 H14.7 V446.7 H9.8 Z"/><circle cx="23.3" cy="444.5" r="2.2"/><path d="M28.2,442.3 H33.8 L29.4,454.1 H24 Z"/></g>
</svg>
</body></html>
